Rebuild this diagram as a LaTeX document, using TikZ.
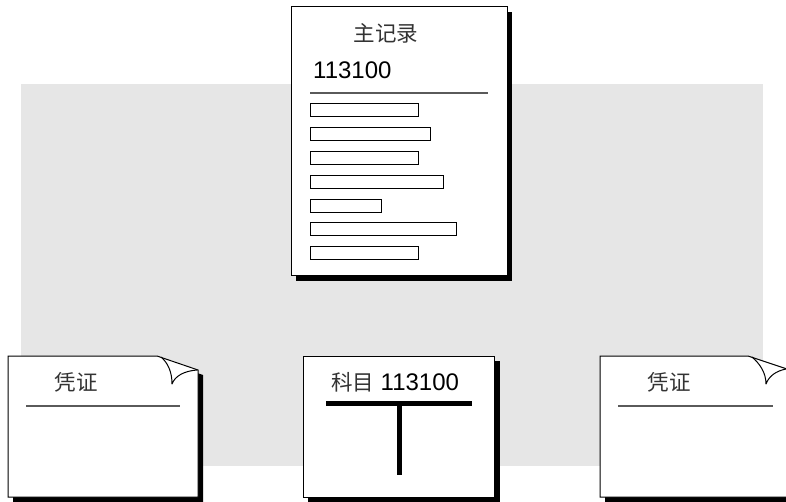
\documentclass[tikz,border=0pt]{standalone}
\usepackage{fontspec}
\setmainfont{Liberation Sans}
\newfontfamily\cjk{Noto Sans CJK SC}
\definecolor{bggray}{RGB}{230,230,230}
\definecolor{rulegray}{RGB}{90,90,90}
\begin{document}
\begin{tikzpicture}[x=1pt,y=-1pt,
  page/.style={fill=white,draw=black,line width=1pt},
  shadow/.style={fill=black,draw=none},
  bar/.style={draw=black,line width=0.9pt,fill=white},
  sep/.style={draw=rulegray,line width=1.4pt},
  curl/.style={draw=black,line width=1pt,line join=round},
  cjklabel/.style={font=\cjk\fontsize{21.5}{24}\selectfont,text=black!80,inner sep=0pt},
  numlabel/.style={font=\fontsize{24}{28}\selectfont,inner sep=0pt},
  tbar/.style={draw=black,line width=5pt}
]
\useasboundingbox (0,0) rectangle (786,502);
\fill[white] (0,0) rectangle (786,502);
% background panel
\fill[bggray] (21,84) rectangle (763,466);

% ---------- main record ----------
\fill[shadow] (296,12) rectangle (512,281);
\draw[page] (291,7) rectangle (507,276);
\node[cjklabel] (mtitle) at (386,33) {主记录};
\node[numlabel,anchor=west] (mnum) at (313,70) {113100};
\coordinate (ml) at (310,93);
\coordinate (mr) at (488,93);
\draw[sep] (ml) -- (mr);
\foreach \y/\r in {103/418,127/430,151/418,175/443,199/381,222/456,246/418}{
  \draw[bar] (310,\y) rectangle (\r,\y+13);
}

% ---------- left voucher ----------
\fill[shadow] (13,361) -- (162,361) -- (203,375) -- (203,502) -- (13,502) -- cycle;
\draw[page] (8,356) -- (157,356) -- (198,370) -- (198,497) -- (8,497) -- cycle;
\draw[curl] (161,357) .. controls (168,363) and (172,372) .. (172,384)
            .. controls (175,376) and (184,371) .. (197,370);
\node[cjklabel] (ltitle) at (76,382) {凭证};
\coordinate (ll) at (26,406);
\coordinate (lr) at (180,406);
\draw[sep] (ll) -- (lr);

% ---------- middle account ----------
\fill[shadow] (308,361) rectangle (500,503);
\draw[page] (303,356) rectangle (494,497);
\node[numlabel] (acc) at (395,382) {{\cjk\fontsize{21.5}{24}\selectfont\color{black!80}科目} 113100};
\coordinate (tl) at (326,403);
\coordinate (tr) at (472,403);
\coordinate (tt) at (399,403);
\coordinate (tb) at (399,475);
\draw[tbar] (tl) -- (tr);
\draw[tbar] (tt) -- (tb);

% ---------- right voucher ----------
\fill[shadow] (605,361) -- (753,361) -- (795,375) -- (795,502) -- (605,502) -- cycle;
\draw[page] (600,356) -- (748,356) -- (790,370) -- (790,497) -- (600,497) -- cycle;
\draw[curl] (752,357) .. controls (759,363) and (766,372) .. (766,384)
            .. controls (769,376) and (776,371) .. (786,369);
\node[cjklabel] (rtitle) at (669,382) {凭证};
\coordinate (rl) at (618,406);
\coordinate (rr) at (773,406);
\draw[sep] (rl) -- (rr);
\end{tikzpicture}
\end{document}
